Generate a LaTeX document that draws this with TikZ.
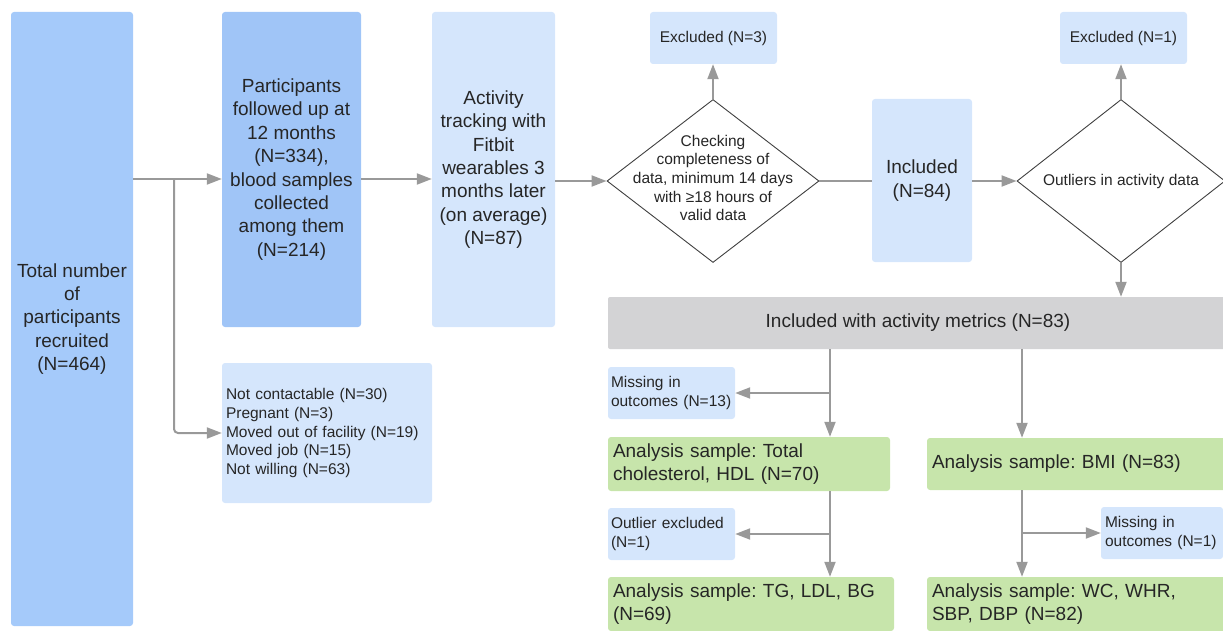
\documentclass[tikz,border=0pt]{standalone}
\usepackage{fontspec}
\setmainfont{Liberation Sans}
\usetikzlibrary{arrows.meta,shapes.geometric}
\frenchspacing

\definecolor{deepblue}{RGB}{165,202,250}
\definecolor{midblue}{RGB}{160,197,247}
\definecolor{paleblue}{RGB}{213,230,252}
\definecolor{metricgray}{RGB}{211,211,213}
\definecolor{samplegreen}{RGB}{199,229,171}
\definecolor{flowgray}{RGB}{153,153,153}

\newcommand{\bigfont}{\fontsize{19}{23.4}\selectfont}
\newcommand{\smallfont}{\fontsize{15.5}{18.7}\selectfont}

\tikzset{
    box/.style={rounded corners=3pt, inner sep=0pt, text=black!85, font=\bigfont, align=center},
    leftbox/.style={box, align=left, inner xsep=4pt},
    smallbox/.style={leftbox, font=\smallfont, fill=paleblue},
    decision/.style={diamond, draw=black!75, line width=0.9pt, inner sep=0pt, fill=white},
    arr/.style={draw=flowgray, line width=2pt, -{Triangle[length=15pt,width=11pt]}},
    link/.style={draw=flowgray, line width=2pt}
}

\begin{document}
\begin{tikzpicture}[x=1pt,y=-1pt]
    \useasboundingbox (0,0) rectangle (1223,631);

    % recruitment and follow up
    \node[box, fill=deepblue, minimum width=122pt, minimum height=614pt] (total) at (72,319)
        {Total number\\of\\participants\\recruited\\(N=464)};
    \node[box, fill=midblue, minimum width=139pt, minimum height=315pt] (followup) at (291.5,169.5)
        {Participants\\followed up at\\12 months\\(N=334),\\blood samples\\collected\\among them\\(N=214)};
    \node[box, fill=paleblue, minimum width=123pt, minimum height=315pt] (tracking) at (493.5,169.5)
        {Activity\\tracking with\\Fitbit\\wearables 3\\months later\\(on average)\\(N=87)};
    \node[smallbox, text width=202pt, minimum height=140pt] (dropout) at (327,433)
        {Not contactable (N=30)\\Pregnant (N=3)\\Moved out of facility (N=19)\\Moved job (N=15)\\Not willing (N=63)};

    % data checks
    \node[decision, minimum width=212pt, minimum height=163pt] (check) at (713,181) {};
    \node[font=\smallfont, align=center, text=black!85] (checklbl) at ([yshift=3pt]check.center)
        {Checking\\completeness of\\data, minimum 14 days\\with ≥18 hours of\\valid data};
    \node[box, font=\smallfont, fill=paleblue, minimum width=127pt, minimum height=52pt] (excl3) at (713.5,38) {Excluded (N=3)};
    \node[box, fill=paleblue, minimum width=100pt, minimum height=163pt] (incl) at (922,180.5) {Included\\(N=84)};
    \node[decision, minimum width=208pt, minimum height=163pt] (outlier) at (1121,181) {};
    \node[font=\smallfont, text=black!85] (outlierlbl) at (outlier) {Outliers in activity data};
    \node[box, font=\smallfont, fill=paleblue, minimum width=127pt, minimum height=52pt] (excl1) at (1123.5,38) {Excluded (N=1)};

    % analysis samples
    \node[box, fill=metricgray, rounded corners=2pt, minimum width=620pt, minimum height=52pt] (metrics) at (918,323)
        {Included with activity metrics (N=83)};
    \node[smallbox, inner xsep=3pt, text width=121pt, minimum height=52pt] (miss13) at (671.5,393)
        {Missing in\\outcomes (N=13)};
    \node[leftbox, inner xsep=5pt, fill=samplegreen, text width=272pt, minimum height=54pt] (lipid) at (749,464)
        {Analysis sample: Total\\cholesterol, HDL (N=70)};
    \node[smallbox, inner xsep=3pt, text width=121pt, minimum height=52pt] (outl) at (671.5,534)
        {Outlier excluded\\(N=1)};
    \node[leftbox, inner xsep=5pt, fill=samplegreen, text width=276pt, minimum height=54pt] (glucose) at (751,604)
        {Analysis sample: TG, LDL, BG\\(N=69)};
    \node[leftbox, inner xsep=5pt, fill=samplegreen, text width=291pt, minimum height=52pt] (bmi) at (1077.5,464)
        {Analysis sample: BMI (N=83)};
    \node[smallbox, text width=114pt, minimum height=52pt] (miss1) at (1162,533)
        {Missing in\\outcomes (N=1)};
    \node[leftbox, inner xsep=5pt, fill=samplegreen, text width=291pt, minimum height=54pt] (bp) at (1077.5,604)
        {Analysis sample: WC, WHR,\\SBP, DBP (N=82)};

    % connectors
    \coordinate (split) at (174,179);
    \coordinate (lbranch) at (830,0);
    \coordinate (rbranch) at (1022,0);
    \draw[arr] (total.east |- split) -- (followup.west |- split);
    \draw[arr, rounded corners=4pt] (split) |- (dropout.west);
    \draw[arr] (followup.east |- split) -- (tracking.west |- split);
    \draw[arr] (tracking.east |- check.west) -- (check.west);
    \draw[arr] (check.north) -- (excl3.south -| check.north);
    \draw[link] (check.east) -- (incl.west |- check.east);
    \draw[arr] (incl.east |- outlier.west) -- (outlier.west);
    \draw[arr] (outlier.north) -- (excl1.south -| outlier.north);
    \draw[arr] (outlier.south) -- (metrics.north -| outlier.south);
    \draw[arr] (metrics.south -| lbranch) -- (lipid.north -| lbranch);
    \draw[arr] (miss13.east -| lbranch) -- (miss13.east);
    \draw[arr] (lipid.south -| lbranch) -- (glucose.north -| lbranch);
    \draw[arr] (outl.east -| lbranch) -- (outl.east);
    \draw[arr] (metrics.south -| rbranch) -- (bmi.north -| rbranch);
    \draw[arr] (bmi.south -| rbranch) -- (bp.north -| rbranch);
    \draw[arr] (miss1.west -| rbranch) -- (miss1.west);
\end{tikzpicture}
\end{document}
